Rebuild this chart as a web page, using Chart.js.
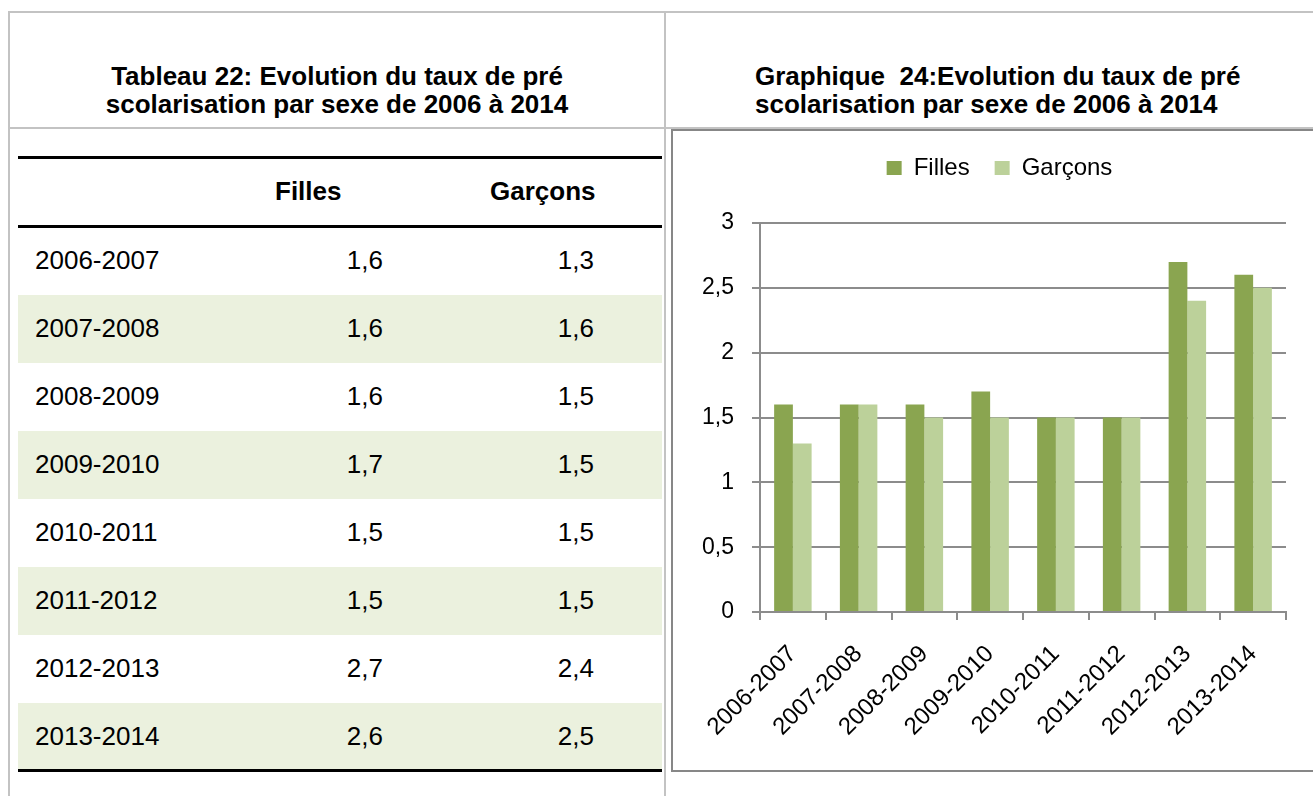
<!DOCTYPE html>
<html>
<head>
<meta charset="utf-8">
<script src="https://cdn.jsdelivr.net/npm/chart.js@4.4.1/dist/chart.umd.min.js"></script>
<style>
  html, body { margin: 0; padding: 0; background: #fff; }
  body { width: 1313px; height: 796px; position: relative; overflow: hidden; font-family: 'Liberation Sans', Arial, sans-serif; color: #000; }
  .frame { position: absolute; background: #c3c3c3; }
  .title { position: absolute; font-weight: bold; font-size: 26px; line-height: 28px; white-space: pre; }
  .rule { position: absolute; left: 18px; width: 644px; height: 3px; background: #000; }
  .row { position: absolute; left: 18px; width: 644px; height: 68px; font-size: 26px; }
  .row.shade { background: #ebf1de; }
  .row span { position: absolute; top: 18px; line-height: 30px; }
  .head { position: absolute; font-weight: bold; font-size: 26px; line-height: 30px; }
  #chartBox { position: absolute; left: 671px; top: 129px; width: 680px; height: 639px; border: 2px solid #878787; }
  #chartBox canvas { position: absolute; left: 0; top: 0; }
</style>
</head>
<body>
<div class="frame" style="left:8px; top:11px; width:1305px; height:2px;"></div>
<div class="frame" style="left:8px; top:11px; width:2px; height:785px;"></div>
<div class="frame" style="left:664px; top:11px; width:2px; height:785px;"></div>
<div class="frame" style="left:8px; top:127px; width:1305px; height:2px;"></div>

<div class="title" style="left:10px; width:654px; top:62px; text-align:center;">Tableau 22: Evolution du taux de pré
scolarisation par sexe de 2006 à 2014</div>
<div class="title" style="left:755px; top:62px;">Graphique  24:Evolution du taux de pré
scolarisation par sexe de 2006 à 2014</div>

<div id="table"></div>

<div id="chartBox"><canvas id="chart" width="640" height="639" style="width:640px;height:639px;"></canvas></div>

<script>
const categories = ['2006-2007', '2007-2008', '2008-2009', '2009-2010', '2010-2011', '2011-2012', '2012-2013', '2013-2014'];
const filles = [1.6, 1.6, 1.6, 1.7, 1.5, 1.5, 2.7, 2.6];
const garcons = [1.3, 1.6, 1.5, 1.5, 1.5, 1.5, 2.4, 2.5];
const seriesNames = ['Filles', 'Garçons'];
const yTickLabels = ['0', '0,5', '1', '1,5', '2', '2,5', '3'];

const fmt = v => v.toFixed(1).replace('.', ',');

// table on the left
const table = document.getElementById('table');
let html = '';
html += '<div class="rule" style="top:156px"></div>';
html += '<div class="head" style="left:275px; top:176px">' + seriesNames[0] + '</div>';
html += '<div class="head" style="left:490px; top:176px">' + seriesNames[1] + '</div>';
html += '<div class="rule" style="top:225px"></div>';
categories.forEach((c, i) => {
  const top = 227 + i * 68;
  html += '<div class="row' + (i % 2 ? ' shade' : '') + '" style="top:' + top + 'px">' +
    '<span style="left:17px">' + c + '</span>' +
    '<span style="right:279px">' + fmt(filles[i]) + '</span>' +
    '<span style="right:68px">' + fmt(garcons[i]) + '</span></div>';
});
html += '<div class="rule" style="top:769px"></div>';
table.innerHTML = html;

// more room under the legend, and legend pushed a bit to the right
const legendTweak = {
  id: 'legendTweak',
  beforeInit(chart) {
    const fit = chart.legend.fit;
    chart.legend.fit = function () {
      fit.call(this);
      this.height += 33;
    };
  },
  afterLayout(chart) {
    chart.legend.left += 20;
    chart.legend.right += 20;
  }
};

const font = "'Liberation Sans', Arial, sans-serif";
const gray = '#8c8c8c';

new Chart(document.getElementById('chart'), {
  type: 'bar',
  data: {
    labels: categories,
    datasets: [
      { label: seriesNames[0], data: filles, backgroundColor: '#8aa550', borderWidth: 0, categoryPercentage: 0.57, barPercentage: 1 },
      { label: seriesNames[1], data: garcons, backgroundColor: '#bcd19a', borderWidth: 0, categoryPercentage: 0.57, barPercentage: 1 }
    ]
  },
  plugins: [legendTweak],
  options: {
    responsive: false,
    animation: false,
    layout: { padding: { left: 0, right: 27, top: 0, bottom: 0 } },
    plugins: {
      tooltip: { enabled: false },
      legend: {
        position: 'top',
        labels: { boxWidth: 15, boxHeight: 14, padding: 25, color: '#000', font: { family: font, size: 24 } }
      }
    },
    scales: {
      x: {
        afterFit: s => { s.height = 158; },
        grid: { drawOnChartArea: false, color: gray, lineWidth: 2, tickLength: 8, offset: true },
        border: { color: gray, width: 2 },
        ticks: { color: '#000', minRotation: 45, maxRotation: 45, padding: 20, font: { family: font, size: 24 } }
      },
      y: {
        min: 0,
        max: 3,
        afterFit: s => { s.width = 87; },
        grid: { color: gray, lineWidth: 2, tickLength: 8 },
        border: { color: gray, width: 2 },
        ticks: {
          stepSize: 0.5,
          padding: 18,
          color: '#000',
          font: { family: font, size: 23 },
          callback: (v, i) => yTickLabels[i]
        }
      }
    }
  }
});
</script>
</body>
</html>
